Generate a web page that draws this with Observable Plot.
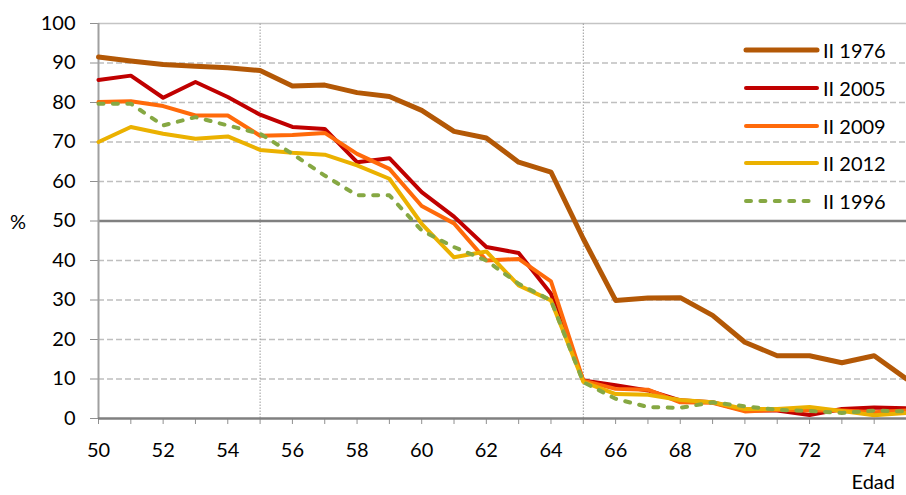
<!DOCTYPE html>
<html>
<head>
<meta charset="utf-8">
<script src="https://cdn.jsdelivr.net/npm/d3@7"></script>
<script src="https://cdn.jsdelivr.net/npm/@observablehq/plot@0.6"></script>
<style>
  body { margin: 0; background: #fff; font-family: Lato, "Open Sans", sans-serif; }
  #wrap { position: relative; width: 906px; height: 495px; overflow: hidden; }
  .lbl { position: absolute; font-size: 20px; line-height: 20px; color: #000; white-space: nowrap; }
  .leg { position: absolute; left: 743px; height: 20px; display: flex; align-items: center; }
  .leg svg { display: block; margin-right: 2px; }
</style>
</head>
<body>
<div id="wrap"></div>
<script>
const ages = [50,51,52,53,54,55,56,57,58,59,60,61,62,63,64,65,66,67,68,69,70,71,72,73,74,75];
const s1976 = [91.5,90.5,89.6,89.2,88.8,88.1,84.2,84.4,82.5,81.5,78.0,72.7,71.0,64.9,62.4,45.5,29.9,30.5,30.6,26.1,19.3,15.9,15.9,14.1,15.9,10.0];
const s2005 = [85.7,86.8,81.2,85.2,81.4,76.9,73.8,73.3,64.9,65.9,57.3,51.1,43.4,41.9,31.6,9.6,8.4,7.1,4.6,4.1,2.0,2.0,0.9,2.4,2.8,2.6];
const s2009 = [80.1,80.3,79.1,76.7,76.7,71.6,71.8,72.3,67.0,63.2,53.8,49.4,40.0,40.4,34.7,9.6,7.5,7.3,4.1,4.0,1.8,2.2,2.0,2.0,1.6,2.0];
const s2012 = [70.0,73.8,72.1,70.8,71.4,68.0,67.3,66.8,64.1,60.7,49.3,40.8,42.3,33.7,29.9,9.3,6.2,6.0,4.7,4.1,2.4,2.4,2.9,1.9,0.8,1.4];
const s1996 = [79.7,79.7,74.2,76.3,74.2,72.1,67.0,61.5,56.5,56.5,47.6,43.4,40.0,34.1,29.9,9.2,5.0,2.9,2.7,4.1,3.1,2.2,1.9,1.4,2.0,1.8];
const seriesNames = ["II 1976","II 2005","II 2009","II 2012","II 1996"];
const yTicks = [0,10,20,30,40,50,60,70,80,90,100];
const dashedGrid = [10,20,30,40,60,70,80,90];
const phaseLines = [55,65];

const series = [
  {name: seriesNames[0], values: s1976, color: "#B35806", width: 5, dash: null},
  {name: seriesNames[1], values: s2005, color: "#C00000", width: 4, dash: null},
  {name: seriesNames[2], values: s2009, color: "#FF6A0A", width: 4, dash: null},
  {name: seriesNames[3], values: s2012, color: "#EBB100", width: 4, dash: null},
  {name: seriesNames[4], values: s1996, color: "#86A843", width: 4, dash: "5,9.4"}
];

const lineMarks = series.map(s => Plot.line(
  ages.map((a, i) => ({age: a, v: s.values[i]})),
  {x: "age", y: "v", stroke: s.color, strokeWidth: s.width, strokeDasharray: s.dash,
   strokeLinejoin: "round", strokeLinecap: "round"}
));

const chart = Plot.plot({
  width: 906, height: 495,
  marginTop: 23, marginBottom: 77, marginLeft: 98, marginRight: 0,
  x: {domain: [50, 75]},
  y: {domain: [0, 100]},
  style: {fontFamily: "Lato, 'Open Sans', sans-serif", fontSize: "20px", background: "white", color: "#000", overflow: "visible"},
  marks: [
    Plot.ruleY(dashedGrid, {stroke: "#BFBFBF", strokeWidth: 1.4, strokeDasharray: "6,3"}),
    Plot.ruleY([100], {stroke: "#C4C4C4", strokeWidth: 1.4}),
    Plot.ruleX(phaseLines, {y1: 0, y2: 100, stroke: "#9A9A9A", strokeWidth: 1, strokeDasharray: "1.5,1.5"}),
    Plot.ruleY([50], {stroke: "#808080", strokeWidth: 2.5}),
    Plot.axisY({ticks: yTicks, tickSize: 8, tickPadding: 15, label: null, stroke: "#909090", fill: "#000", tickFormat: d => d}),
    Plot.axisX({ticks: ages, tickSize: 6, tickPadding: 18, label: null, stroke: "#909090", fill: "#000",
                tickFormat: d => d % 2 === 0 ? d : ""}),
    Plot.ruleX([50], {stroke: "#A0A0A0", strokeWidth: 2}),
    Plot.ruleY([0], {stroke: "#808080", strokeWidth: 2.5}),
    ...lineMarks
  ]
});

const wrap = document.getElementById("wrap");
wrap.appendChild(chart);

function addLabel(text, left, top, right, lh) {
  const d = document.createElement("div");
  d.className = "lbl";
  d.textContent = text;
  if (right != null) d.style.right = right + "px"; else d.style.left = left + "px";
  d.style.top = top + "px";
  if (lh) d.style.lineHeight = lh + "px";
  wrap.appendChild(d);
}
addLabel("%", 10, 211);
addLabel("Edad", null, 473, 11, 16);

series.forEach((s, i) => {
  const row = document.createElement("div");
  row.className = "leg";
  row.style.top = (40 + i * 37.8) + "px";
  const ns = "http://www.w3.org/2000/svg";
  const sv = document.createElementNS(ns, "svg");
  sv.setAttribute("width", 78); sv.setAttribute("height", 20);
  const ln = document.createElementNS(ns, "line");
  ln.setAttribute("x1", 3); ln.setAttribute("x2", 74);
  ln.setAttribute("y1", 10); ln.setAttribute("y2", 10);
  ln.setAttribute("stroke", s.color);
  ln.setAttribute("stroke-width", s.width);
  ln.setAttribute("stroke-linecap", "round");
  if (s.dash) ln.setAttribute("stroke-dasharray", s.dash);
  sv.appendChild(ln);
  row.appendChild(sv);
  const t = document.createElement("span");
  t.className = "lbl"; t.style.position = "static";
  t.textContent = s.name;
  row.appendChild(t);
  wrap.appendChild(row);
});
</script>
</body>
</html>
